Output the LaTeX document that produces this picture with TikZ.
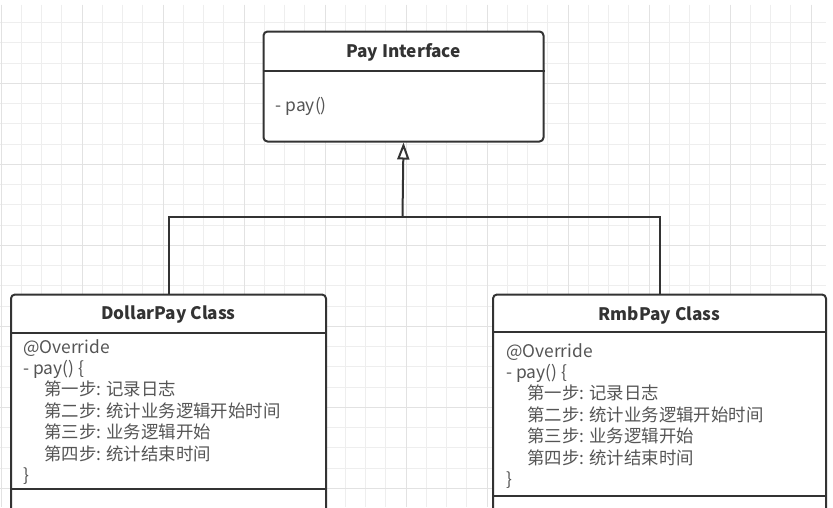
\documentclass[tikz,border=0pt]{standalone}
\usepackage{fontspec}
\setmainfont{Noto Sans CJK SC}
\usepackage{xcolor}
\usepackage{tikz}
\usetikzlibrary{arrows.meta,positioning}

\definecolor{linegray}{HTML}{333333}
\definecolor{titlegray}{HTML}{333333}
\definecolor{textgray}{HTML}{555555}
\definecolor{gridminor}{HTML}{EEEEEE}
\definecolor{gridmajor}{HTML}{E2E2E2}

\begin{document}
\begin{tikzpicture}[x=1pt,y=-1pt,
    classbox/.style={draw=linegray,fill=white,line width=2pt,rounded corners=4pt,anchor=north west,inner sep=0pt},
    classtitle/.style={font=\bfseries\fontsize{17.2}{20}\selectfont,text=titlegray,inner sep=0pt,anchor=base},
    members/.style={font=\fontsize{17.4}{21.4}\selectfont,text=textgray,align=left,inner sep=0pt,anchor=north west},
    divider/.style={draw=linegray,line width=2pt},
    link/.style={draw=linegray,line width=2pt},
    realize/.style={link,-{Triangle[open,length=17pt,width=12pt]}}]
    \useasboundingbox (0,0) rectangle (833,507);
    \clip (0,0) rectangle (833,507);
    % background grid
    \foreach \i in {0,...,40}
        \draw[gridminor,line width=1pt] ({1+20.25*\i},4.5) -- ({1+20.25*\i},507);
    \foreach \j in {1,...,25}
        \draw[gridminor,line width=1pt] (0,{2.3+20.25*\j}) -- (826,{2.3+20.25*\j});
    \foreach \i in {0,...,10}
        \draw[gridmajor,line width=1pt] ({1+81*\i},4.5) -- ({1+81*\i},507);
    \foreach \j in {1,...,6}
        \draw[gridmajor,line width=1pt] (0,{2.3+81*\j}) -- (826,{2.3+81*\j});

    % interface
    \node[classbox,minimum width=280pt,minimum height=110pt] (pay) at (262.5,30.5) {};
    \node[classtitle] (paytitle) at ([yshift=-26.5pt]pay.north) {Pay Interface};
    \draw[divider] ([yshift=-40pt]pay.north west) -- ([yshift=-40pt]pay.north east);
    \node[members] (paybody) at ([xshift=13pt,yshift=-66pt]pay.north west) {\strut- pay()};

    % implementations
    \node[classbox,minimum width=315pt,minimum height=240pt] (dollar) at (10,293.5) {};
    \node[classtitle] (dollartitle) at ([yshift=-26pt]dollar.north) {DollarPay Class};
    \draw[divider] ([yshift=-39pt]dollar.north west) -- ([yshift=-39pt]dollar.north east);
    \draw[divider] ([yshift=-195pt]dollar.north west) -- ([yshift=-195pt]dollar.north east);
    \node[members] (dollarbody) at ([xshift=13pt,yshift=-44.5pt]dollar.north west) {\strut@Override\\
        - pay() \{\\
        \hspace*{21pt}第一步: 记录日志\\
        \hspace*{21pt}第二步: 统计业务逻辑开始时间\\
        \hspace*{21pt}第三步: 业务逻辑开始\\
        \hspace*{21pt}第四步: 统计结束时间\\
        \}};

    \node[classbox,minimum width=333pt,minimum height=240pt] (rmb) at (492,293.5) {};
    \node[classtitle] (rmbtitle) at ([yshift=-26.5pt]rmb.north) {RmbPay Class};
    \draw[divider] ([yshift=-38.5pt]rmb.north west) -- ([yshift=-38.5pt]rmb.north east);
    \draw[divider] ([yshift=-202pt]rmb.north west) -- ([yshift=-202pt]rmb.north east);
    \node[members] (rmbbody) at ([xshift=14pt,yshift=-48.5pt]rmb.north west) {\strut@Override\\
        - pay() \{\\
        \hspace*{21pt}第一步: 记录日志\\
        \hspace*{21pt}第二步: 统计业务逻辑开始时间\\
        \hspace*{21pt}第三步: 业务逻辑开始\\
        \hspace*{21pt}第四步: 统计结束时间\\
        \}};

    % realization
    \coordinate (split) at (402.5,216.5);
    \draw[link] (dollar.north) |- (split) -| (rmb.north);
    \draw[realize] (split) -- (pay.south);
\end{tikzpicture}
\end{document}
